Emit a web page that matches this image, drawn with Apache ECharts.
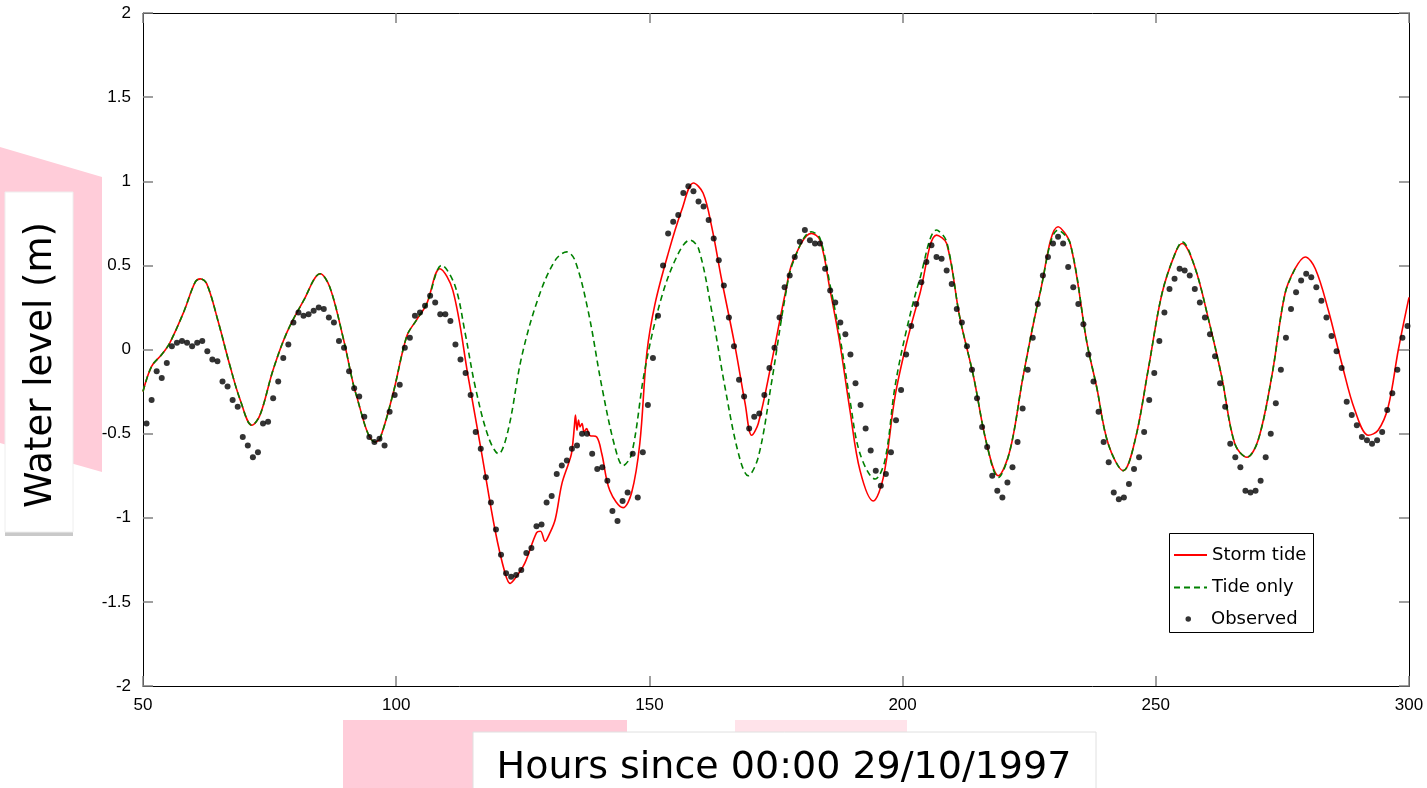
<!DOCTYPE html>
<html><head><meta charset="utf-8">
<script src="https://cdn.jsdelivr.net/npm/echarts@6/dist/echarts.min.js"></script>
<style>html,body{margin:0;padding:0;background:#fff}#c{width:1427px;height:788px}</style>
</head><body><div id="c"></div>
<script>
// ---------- data ----------
const xTickValues = [50, 100, 150, 200, 250, 300];
const yTickValues = [-2, -1.5, -1, -0.5, 0, 0.5, 1, 1.5, 2];

const stormHours = [50,51.7,53.7,55.3,58,60.3,61.3,62.6,64.9,67.2,69.2,71.5,73.1,75.7,78.4,81.7,85,86.9,89.6,92.2,95.8,96.8,99.4,102.1,104,106,108.6,
  111.2,114.2,116.9,119.5,121.5,122.5,123.5,125.4,127.7,128.5,129.4,130.2,131.4,132.7,134.0,134.6,135.0,135.2,135.4,135.7,136.0,136.3,136.7,137.1,137.6,138.2,139.6,140.6,142.2,144.8,146.5,148.1,149.5,151.1,153.7,156.4,158.7,160.6,162.3,164.3,166.9,168.9,170.2,171.5,174.1,176.8,
  178.4,182.0,183.7,185.7,187.6,189.6,191.6,194.2,196.2,198.5,200.8,203.4,206.7,208.7,211.3,214.0,216.6,218.9,221.2,223.8,227.1,230.7,233.1,236.4,238.3,240.6,243.6,245.9,248.5,251.2,253.8,255.2,257.7,260.4,263.0,265.6,268.0,270.2,272.9,275.5,277.5,279.5,281.5,284.1,286.7,289.3,292.0,293.9,295.9,297.9,300];
const stormLevels = [-0.25,-0.10,-0.03,0.04,0.22,0.40,0.42,0.39,0.16,-0.10,-0.30,-0.45,-0.39,-0.12,0.10,0.29,0.45,0.37,0.06,-0.28,-0.55,-0.53,-0.26,0.08,0.175,0.27,0.48,
  0.35,-0.16,-0.62,-1.07,-1.33,-1.39,-1.36,-1.27,-1.09,-1.08,-1.14,-1.10,-1.01,-0.80,-0.68,-0.62,-0.52,-0.45,-0.39,-0.48,-0.42,-0.46,-0.44,-0.49,-0.47,-0.51,-0.52,-0.62,-0.84,-0.94,-0.85,-0.56,-0.02,0.27,0.57,0.83,0.99,0.93,0.73,0.41,0.02,-0.32,-0.51,-0.44,-0.08,0.33,
  0.53,0.69,0.65,0.35,0.04,-0.36,-0.72,-0.90,-0.76,-0.28,0.04,0.33,0.68,0.63,0.19,-0.16,-0.56,-0.75,-0.60,-0.16,0.33,0.73,0.63,0.04,-0.22,-0.56,-0.72,-0.54,-0.12,0.33,0.57,0.63,0.49,0.18,-0.16,-0.56,-0.64,-0.54,-0.16,0.33,0.48,0.55,0.48,0.23,-0.08,-0.36,-0.51,-0.48,-0.34,0.00,0.31];

const tideHours = [50,51.7,53.7,55.3,58,60.3,61.3,62.6,64.9,67.2,69.2,71.5,73.1,75.7,78.4,81.7,85,86.9,89.6,92.2,95.8,96.8,99.4,102.1,104,106,109.0,
  111.6,113.6,115.6,118.2,120.2,122.1,124.8,128.1,131.4,133.7,135.3,137.9,140.6,143.2,144.8,146.5,149.1,152.4,155.7,158.0,159.7,162.3,164.9,167.6,169.5,171.5,174.1,176.8,
  178.4,182.0,183.7,185.7,187.6,189.6,191.6,194.6,196.5,198.5,200.8,203.4,206.7,208.7,211.3,214.0,216.6,218.9,221.2,223.8,227.1,230.7,233.1,236.4,238.3,240.6,243.6,245.9,248.5,251.2,253.8,255.2,257.7,260.4,263.0,265.6,268.0,270.2,272.9,275.5,277.5];
const tideLevels = [-0.25,-0.10,-0.03,0.04,0.22,0.40,0.42,0.39,0.16,-0.10,-0.30,-0.45,-0.39,-0.12,0.10,0.29,0.45,0.37,0.06,-0.28,-0.55,-0.53,-0.26,0.08,0.175,0.27,0.50,
  0.38,0.10,-0.22,-0.52,-0.62,-0.48,-0.04,0.31,0.53,0.58,0.53,0.23,-0.22,-0.58,-0.69,-0.62,-0.12,0.31,0.57,0.65,0.60,0.23,-0.22,-0.62,-0.75,-0.64,-0.20,0.31,
  0.52,0.70,0.66,0.38,0.08,-0.30,-0.62,-0.77,-0.66,-0.22,0.12,0.42,0.71,0.64,0.19,-0.16,-0.56,-0.76,-0.60,-0.16,0.33,0.71,0.63,0.04,-0.22,-0.56,-0.72,-0.54,-0.12,0.33,0.57,0.64,0.49,0.18,-0.16,-0.56,-0.64,-0.54,-0.16,0.33,0.48];

// observed: hourly samples, first at hour 50.7
const obsFirstHour = 50.7;
const obsLevels = [
  -0.44,-0.30,-0.13,-0.17,-0.08,0.02,0.04,0.05,0.04,0.02,
  0.04,0.05,-0.01,-0.06,-0.07,-0.19,-0.22,-0.30,-0.34,-0.52,
  -0.57,-0.64,-0.61,-0.44,-0.43,-0.29,-0.19,-0.05,0.03,0.16,
  0.22,0.20,0.21,0.23,0.25,0.24,0.19,0.16,0.05,0.01,
  -0.13,-0.23,-0.28,-0.40,-0.52,-0.55,-0.53,-0.57,-0.37,-0.27,
  -0.21,0.01,0.07,0.20,0.22,0.26,0.32,0.28,0.21,0.21,
  0.17,0.03,-0.06,-0.14,-0.27,-0.49,-0.59,-0.76,-0.91,-1.07,
  -1.22,-1.33,-1.35,-1.34,-1.31,-1.21,-1.18,-1.05,-1.04,-0.91,
  -0.87,-0.74,-0.69,-0.66,-0.59,-0.57,-0.50,-0.50,-0.62,-0.71,
  -0.70,-0.78,-0.96,-1.02,-0.90,-0.85,-0.62,-0.88,-0.61,-0.33,
  -0.05,0.20,0.50,0.69,0.76,0.80,0.93,0.97,0.94,0.88,
  0.85,0.77,0.66,0.53,0.38,0.19,0.02,-0.18,-0.28,-0.47,
  -0.40,-0.38,-0.27,-0.11,0.01,0.19,0.37,0.44,0.55,0.64,
  0.71,0.65,0.63,0.63,0.48,0.35,0.28,0.16,0.09,-0.03,
  -0.20,-0.33,-0.47,-0.60,-0.72,-0.81,-0.74,-0.61,-0.42,-0.24,
  -0.03,0.14,0.27,0.40,0.52,0.62,0.55,0.54,0.47,0.39,
  0.24,0.16,0.02,-0.12,-0.29,-0.46,-0.58,-0.75,-0.84,-0.88,
  -0.79,-0.70,-0.55,-0.35,-0.12,0.07,0.27,0.44,0.55,0.63,
  0.67,0.63,0.49,0.37,0.27,0.15,-0.03,-0.19,-0.37,-0.55,
  -0.67,-0.85,-0.89,-0.88,-0.80,-0.71,-0.64,-0.49,-0.30,-0.14,
  0.05,0.22,0.36,0.42,0.48,0.47,0.44,0.36,0.28,0.19,
  0.09,-0.04,-0.20,-0.34,-0.56,-0.64,-0.70,-0.84,-0.85,-0.84,
  -0.78,-0.64,-0.50,-0.32,-0.12,0.07,0.24,0.34,0.41,0.45,
  0.43,0.37,0.29,0.19,0.08,-0.01,-0.11,-0.31,-0.39,-0.45,
  -0.52,-0.54,-0.56,-0.54,-0.49,-0.36,-0.26,-0.12,0.07,0.14
];

const seriesNames = ['Storm tide', 'Tide only', 'Observed'];
const xTitle = 'Hours since 00:00 29/10/1997';
const yTitle = 'Water level (m)';

// ---------- build ----------
const zip = (xs, ys) => xs.map((x, i) => [x, ys[i]]);
const stormData = zip(stormHours, stormLevels);
const tideData = zip(tideHours, tideLevels);
const obsData = obsLevels.map((v, i) => [+(obsFirstHour + i).toFixed(1), v]);

const tickFont = { color: '#000', fontFamily: 'Liberation Sans', fontSize: 17 };
const tickStyle = { inside: true, length: 10, lineStyle: { color: '#808080', width: 1.5 } };
const lineAxis = { show: true, onZero: false, lineStyle: { color: '#000', width: 1 } };

const xBase = { type: 'value', min: xTickValues[0], max: xTickValues[xTickValues.length - 1], interval: 50,
  axisLine: lineAxis, axisTick: tickStyle, splitLine: { show: false } };
const yBase = { type: 'value', min: yTickValues[0], max: yTickValues[yTickValues.length - 1], interval: 0.5,
  axisLine: lineAxis, axisTick: tickStyle, splitLine: { show: false } };

const legendText = { color: '#000', fontFamily: 'DejaVu Sans', fontSize: 18, lineHeight: 20 };

const chart = echarts.init(document.getElementById('c'), null, { renderer: 'canvas' });
chart.setOption({
  animation: false,
  backgroundColor: '#fff',
  grid: { left: 143, right: 18, top: 13, bottom: 102, containLabel: false },
  xAxis: [
    Object.assign({}, xBase, { position: 'bottom', axisLabel: Object.assign({ margin: 11 }, tickFont) }),
    Object.assign({}, xBase, { position: 'top', axisLabel: { show: false } })
  ],
  yAxis: [
    Object.assign({}, yBase, { position: 'left', axisLabel: Object.assign({ margin: 12 }, tickFont) }),
    Object.assign({}, yBase, { position: 'right', axisLabel: { show: false } })
  ],
  legend: [
    { data: [seriesNames[0], seriesNames[1]], orient: 'vertical', left: 1173, top: 545, padding: 0,
      itemWidth: 33, itemHeight: 14, itemGap: 12.5, z: 20,
      itemStyle: { color: 'rgba(0,0,0,0)', borderColor: 'rgba(0,0,0,0)', borderWidth: 0, opacity: 0 },
      textStyle: legendText },
    { data: [seriesNames[2]], orient: 'vertical', left: 1185.5, top: 609, padding: 0,
      itemWidth: 5.5, itemHeight: 5.5, z: 20,
      textStyle: Object.assign({ padding: [0, 0, 0, 15] }, legendText) }
  ],
  graphic: [
    { type: 'polygon', z: 0, shape: { points: [[0,147],[102,177],[102,472],[0,443]] }, style: { fill: '#ffccd9' } },
    { type: 'rect', z: 1, shape: { x: 5, y: 196, width: 68, height: 340 }, style: { fill: '#c9c9c9' } },
    { type: 'rect', z: 2, shape: { x: 5, y: 192, width: 68, height: 340 }, style: { fill: '#fff', stroke: '#eeeeee', lineWidth: 1 } },
    { type: 'text', z: 3, x: 41, y: 365, rotation: Math.PI / 2,
      style: { text: yTitle, font: '37px "DejaVu Sans"', fill: '#000', textAlign: 'center', textVerticalAlign: 'middle' } },
    { type: 'rect', z: 0, shape: { x: 343, y: 720, width: 284, height: 68 }, style: { fill: '#ffccd9' } },
    { type: 'rect', z: 0, shape: { x: 735, y: 720, width: 172, height: 14 }, style: { fill: '#ffe3ea' } },
    { type: 'rect', z: 1, shape: { x: 473, y: 732, width: 623, height: 60 }, style: { fill: '#fff', stroke: '#e0e0e0', lineWidth: 1 } },
    { type: 'text', z: 3, x: 784, y: 768,
      style: { text: xTitle, font: '38px "DejaVu Sans"', fill: '#000', textAlign: 'center', textVerticalAlign: 'middle' } },
    { type: 'rect', z: 15, shape: { x: 1169.5, y: 533.5, width: 144, height: 99 }, style: { fill: '#fff', stroke: '#000', lineWidth: 1 } }
  ],
  series: [
    { name: seriesNames[0], type: 'line', data: stormData, symbol: 'none', smooth: 0.35, z: 2,
      lineStyle: { color: '#ff0000', width: 1.6 }, itemStyle: { color: '#ff0000' } },
    { name: seriesNames[1], type: 'line', data: tideData, symbol: 'none', smooth: 0.35, z: 3,
      lineStyle: { color: '#008000', width: 1.6, type: [6, 4] }, itemStyle: { color: '#008000' } },
    { name: seriesNames[2], type: 'scatter', data: obsData, symbol: 'circle', symbolSize: 6, z: 4,
      itemStyle: { color: '#000' } }
  ]
});
</script>
</body></html>
